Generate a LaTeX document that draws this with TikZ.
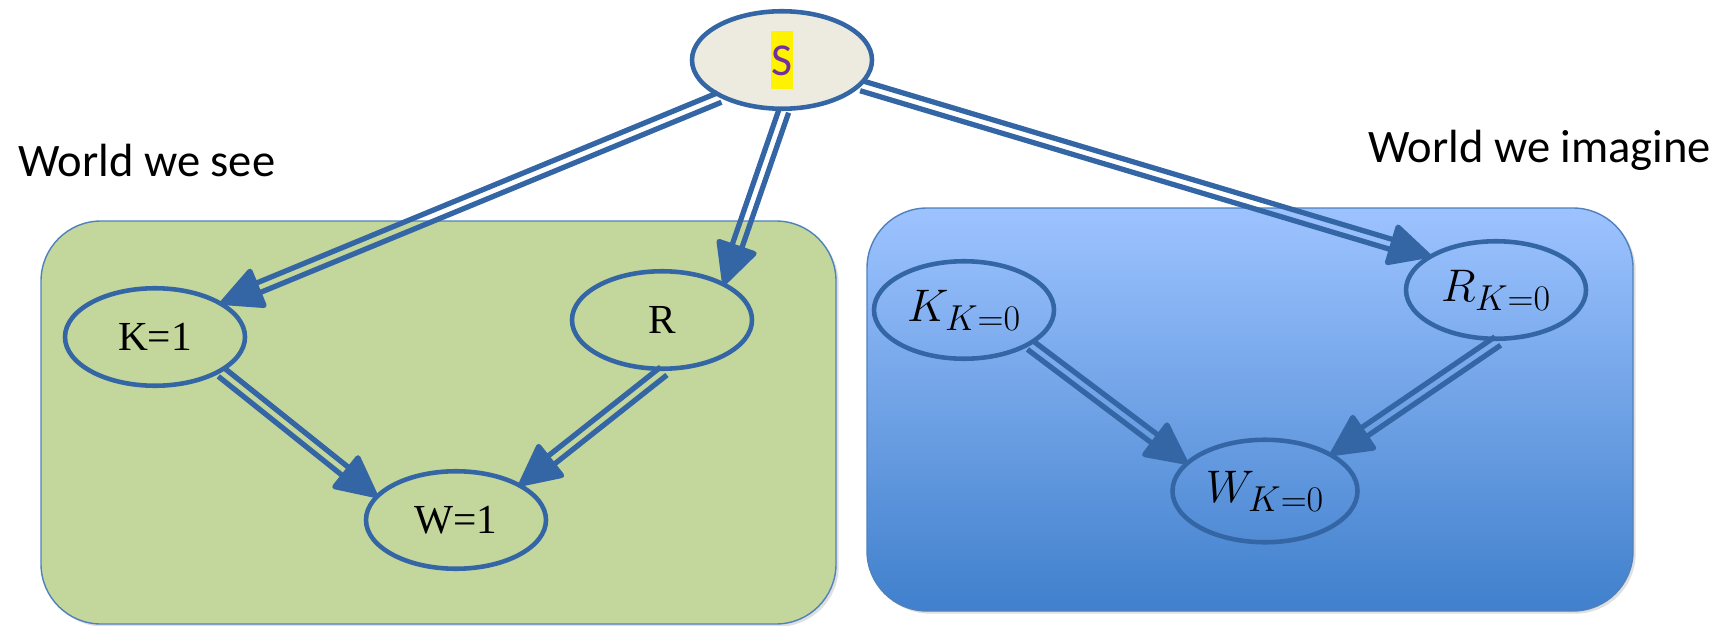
\RequirePackage{fix-cm}
\documentclass[tikz,border=0pt]{standalone}
\usepackage[no-math]{fontspec}
\setmainfont{Liberation Serif}
\newfontfamily\calibri{Carlito}
\usetikzlibrary{calc,shapes.geometric,shadows}
\DeclareMathSizes{26}{26}{20.5}{15}

\definecolor{linkblue}{RGB}{52,102,166}
\definecolor{sfill}{RGB}{237,235,224}
\definecolor{seegreen}{RGB}{195,214,155}
\definecolor{boxline}{RGB}{79,129,189}
\definecolor{imagtop}{RGB}{157,195,255}
\definecolor{imagbot}{RGB}{64,128,204}
\definecolor{spurple}{RGB}{112,48,160}

\begin{document}
\begin{tikzpicture}[
    var/.style={ellipse, draw=linkblue, line width=2.6pt, minimum width=3.6cm, minimum height=1.95cm},
    world/.style={rounded corners=1.2cm, draw=boxline, line width=0.8pt,
      drop shadow={opacity=0.25, shadow xshift=1.5pt, shadow yshift=-1.5pt}},
    title/.style={anchor=base west, font=\calibri\fontsize{26.5}{32}\selectfont},
    link/.style={draw=linkblue, fill=linkblue, line width=3pt, line join=round,
      to path={
        ($(\tikztostart)!2.9pt!90:(\tikztotarget)$) -- ($(\tikztotarget)!21pt!(\tikztostart)!2.9pt!-90:(\tikztostart)$)
        ($(\tikztostart)!2.9pt!-90:(\tikztotarget)$) -- ($(\tikztotarget)!21pt!(\tikztostart)!2.9pt!90:(\tikztostart)$)
        ($(\tikztotarget)!21pt!(\tikztostart)!10.5pt!90:(\tikztostart)$) -- (\tikztotarget)
          -- ($(\tikztotarget)!21pt!(\tikztostart)!10.5pt!-90:(\tikztostart)$) -- cycle}}
  ]
        \useasboundingbox (0,0) rectangle (34.62,-12.5);

        % Worlds
        \path[world, fill=seegreen] (0.82,-4.42) rectangle (16.72,-12.48);
        \path[world, top color=imagtop, bottom color=imagbot] (17.34,-4.16) rectangle (32.66,-12.22);
        \node[title] (see) at (0.24,-3.54) {World we see};
        \node[title] (imagine) at (27.24,-3.26) {World we imagine};

        % Variables
        \node[var, fill=sfill] (S) at (15.64,-1.2) {};
        \node[fill=yellow, text=spurple, inner sep=0.5pt, text height=25pt, text depth=7pt,
              font=\calibri\fontsize{26}{31}\selectfont] (Slab) at (S) {S};

        \node[var, font=\fontsize{23.5}{28}\selectfont] (K1) at (3.10,-6.74) {K=1};
        \node[var, font=\fontsize{23.5}{28}\selectfont] (R) at (13.24,-6.40) {R};
        \node[var, font=\fontsize{23.5}{28}\selectfont] (W1) at (9.12,-10.40) {W=1};

        \node[var, font=\fontsize{26}{31}\selectfont] (K0) at (19.28,-6.2) {$K_{K=0}$};
        \node[var, font=\fontsize{26}{31}\selectfont] (R0) at (29.92,-5.8) {$R_{K=0}$};
        \node[var, font=\fontsize{26}{31}\selectfont, minimum width=3.7cm, minimum height=2.05cm] (W0) at (25.30,-9.82) {$W_{K=0}$};

        % Links
        \draw[link] (S.211) to (K1.27);
        \draw[link] (S.272) to (R.31);
        \draw[link] (S.-18) to (R0.153);

        \draw[link] (K1.-28) to (W1.163);
        \draw[link] (R.-88) to (W1.29);

        \draw[link] (K0.-28) to (W0.160);
        \draw[link] (R0.-88) to (W0.29);
    \end{tikzpicture}
\end{document}
